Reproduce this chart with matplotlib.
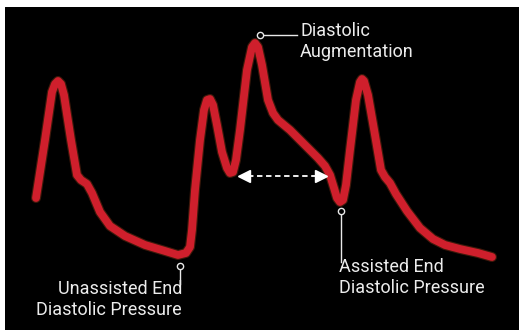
import matplotlib.pyplot as plt

# waveform (pixel coords, y down)
wave_x = [36, 45, 52, 55, 58, 61, 64, 71, 77, 81, 87, 92, 100, 110, 125, 145, 165, 178,
          186, 190, 192, 195, 200, 204, 207, 210, 213, 217, 222, 227, 230, 233, 236, 240, 247,
          252, 255, 258, 262, 268, 273, 278, 290, 305, 318, 325, 330, 334, 337, 340, 343, 346,
          350, 356, 360, 362, 364, 368, 375, 381, 385, 390, 396, 407, 420, 433, 445, 460,
          478, 492]
wave_y = [198, 140, 92, 84, 81, 84, 95, 140, 175, 180, 184, 193, 212, 226, 236, 245, 251, 255,
          253, 247, 230, 190, 140, 110, 100, 99, 105, 125, 152, 168, 173, 172, 160, 130, 70,
          47, 43, 47, 65, 100, 113, 120, 130, 145, 158, 166, 175, 188, 198, 202, 200, 185,
          150, 100, 82, 79, 81, 95, 135, 170, 177, 183, 194, 211, 228, 239, 245, 249,
          253, 257]

labels = ['Diastolic\nAugmentation', 'Unassisted End\nDiastolic Pressure',
          'Assisted End\nDiastolic Pressure']

def main():
    fig = plt.figure(figsize=(5.19, 3.30), dpi=100)
    fig.patch.set_facecolor('white')
    ax = fig.add_axes([5 / 519, 0, 1 - 5 / 519, 1 - 7 / 330])
    ax.set_facecolor('black')
    ax.set_xlim(5, 519)
    ax.set_ylim(330, 7)
    ax.axis('off')
    ax.add_patch(plt.Rectangle((5, 7), 514, 323, color='black', zorder=0))

    # glow + main red line
    ax.plot(wave_x, wave_y, color='#5a2410', lw=7.2, alpha=0.7,
            solid_joinstyle='round', solid_capstyle='round', zorder=2)
    ax.plot(wave_x, wave_y, color='#cf1f2c', lw=5.6,
            solid_joinstyle='round', solid_capstyle='round', zorder=3)

    txt = dict(color='#ececec', fontsize=13, family='Roboto', linespacing=1.2)
    lc = '#e8e8e8'

    # Diastolic augmentation
    ax.plot([262, 297], [35, 35], color=lc, lw=1, zorder=4)
    ax.plot(260, 35, 'o', ms=4.5, mfc='black', mec=lc, mew=1, zorder=5)
    ax.text(300, 57, labels[0], ha='left', va='baseline', **txt)

    # unassisted
    ax.plot([180, 180], [268, 284], color=lc, lw=1, zorder=4)
    ax.plot(180, 266, 'o', ms=4.5, mfc='black', mec=lc, mew=1, zorder=5)
    ax.text(182, 315, labels[1], ha='right', va='baseline', multialignment='right', **txt)

    # assisted
    ax.plot([341, 341], [213, 262], color=lc, lw=1, zorder=4)
    ax.plot(341, 211, 'o', ms=4.5, mfc='black', mec=lc, mew=1, zorder=5)
    ax.text(339, 293, labels[2], ha='left', va='baseline', **txt)

    # dashed double arrow
    ax.plot([248, 317], [176, 176], color='white', lw=1.3, ls=(0, (3, 2)), zorder=4)
    ax.plot(244, 176, marker='<', ms=8, color='white', zorder=4)
    ax.plot(321, 176, marker='>', ms=8, color='white', zorder=4)

    fig.savefig('out.png', dpi=100, facecolor='white')

if __name__ == '__main__':
    main()
